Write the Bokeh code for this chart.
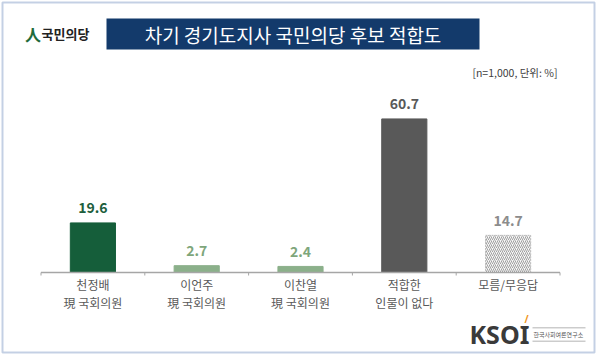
from bokeh.plotting import figure
from bokeh.models import ColumnDataSource, Label, BoxAnnotation, FactorRange, Range1d
from bokeh.core.properties import value
from bokeh.embed import file_html
from bokeh.resources import INLINE

# ---- data ----
categories = ["천정배", "이언주", "이찬열", "적합한 인물이 없다", "모름/무응답"]
tick_labels = ["천정배\n現 국회의원", "이언주\n現 국회의원", "이찬열\n現 국회의원",
               "적합한\n인물이 없다", "모름/무응답"]
values = [19.6, 2.7, 2.4, 60.7, 14.7]
value_texts = ["19.6", "2.7", "2.4", "60.7", "14.7"]
title_text = "차기 경기도지사 국민의당 후보 적합도"
note_text = "[n=1,000, 단위: %]"

FONT = "Noto Sans CJK KR"
bar_colors = ["#155e3a", "#8bb08a", "#8bb08a", "#595959"]
label_colors = ["#1d5e3c", "#7ea67b", "#7ea67b", "#595959", "#8c8c8c"]

W, H = 600, 356
BASE = 272          # canvas px of value 0
PXU = 2.53          # px per percent
CATW = 103.8        # px per category
pad = (W / CATW - len(categories)) / 2

p = figure(width=W, height=H, output_backend="svg", toolbar_location=None,
           x_range=FactorRange(factors=categories, range_padding=pad,
                               range_padding_units="absolute"),
           y_range=Range1d(-(H - BASE) / PXU, BASE / PXU),
           x_axis_location=None, y_axis_location=None,
           min_border=0)
p.outline_line_color = None
p.grid.visible = False
p.background_fill_color = "white"
p.border_fill_color = "white"

src = ColumnDataSource(dict(cat=categories[:4], val=values[:4], color=bar_colors))
p.vbar(x="cat", top="val", width=0.435, source=src, fill_color="color", line_color="color")

src5 = ColumnDataSource(dict(cat=categories[4:], val=values[4:]))
p.vbar(x="cat", top="val", width=0.435, source=src5, fill_color="#f6f6f6",
       line_color="#c0c0c0", line_dash="2 1", hatch_pattern="right_diagonal_line",
       hatch_color="#a0a0a0", hatch_scale=4, hatch_weight=1)

lsrc = ColumnDataSource(dict(cat=categories, val=values, txt=value_texts, color=label_colors))
p.text(x="cat", y="val", text="txt", source=lsrc, text_color="color",
       text_font=value(FONT), text_font_size="14px", text_font_style="bold",
       text_align="center", text_baseline="middle", y_offset=-15)

# category axis: baseline, boundary ticks, labels
n = len(categories)
p.segment(x0=[0], x1=[n], y0=[0], y1=[0], line_color="#a6a6a6", line_width=1.3)
bounds = list(range(n + 1))
p.segment(x0=bounds, x1=bounds, y0=[0] * (n + 1), y1=[-3 / PXU] * (n + 1),
          line_color="#a6a6a6", line_width=1)
csrc = ColumnDataSource(dict(cat=categories, txt=tick_labels))
p.text(x="cat", y=0, text="txt", source=csrc, text_color="#595959",
       text_font=value(FONT), text_font_size="12px", text_align="center",
       text_baseline="top", text_line_height=1.08, y_offset=3)


def sx(cx):
    return cx


def sy(cy):
    return H - cy


def box(l, r, t, b, **kw):
    return BoxAnnotation(left=sx(l), right=sx(r), top=sy(t), bottom=sy(b),
                         left_units="screen", right_units="screen",
                         top_units="screen", bottom_units="screen", **kw)


# outer border
p.add_layout(box(2, 594, 2, 352, fill_alpha=0, line_color="#3d63a6", line_width=2,
                 level="overlay"))
# title box
p.add_layout(box(106, 479, 18, 49, fill_color="#133a6b", fill_alpha=1, line_color=None))
p.add_layout(Label(x=sx(292.5), y=sy(33.5), x_units="screen", y_units="screen",
                   text=title_text, text_font=FONT, text_font_size="19px",
                   text_color="white", text_align="center", text_baseline="middle"))

# party logo
p.add_layout(Label(x=sx(32.5), y=sy(33), x_units="screen", y_units="screen",
                   text="人", text_font=FONT, text_font_size="16px", text_font_style="bold",
                   text_color="#1f6b3c", text_align="center", text_baseline="middle"))
p.add_layout(Label(x=sx(41), y=sy(33), x_units="screen", y_units="screen",
                   text="국민의당", text_font=FONT, text_font_size="13px", text_font_style="bold",
                   text_color="#222222", text_align="left", text_baseline="middle"))

# note
p.add_layout(Label(x=sx(557), y=sy(72), x_units="screen", y_units="screen",
                   text=note_text, text_font=FONT, text_font_size="10.5px",
                   text_color="#404040", text_align="right", text_baseline="middle"))

# KSOI logo
p.add_layout(Label(x=sx(469), y=sy(333), x_units="screen", y_units="screen",
                   text="KSOI", text_font="Noto Sans", text_font_size="25px",
                   text_font_style="bold", text_color="#3a3a3a",
                   text_align="left", text_baseline="middle"))
p.add_layout(Label(x=sx(526), y=sy(318), x_units="screen", y_units="screen",
                   text="/", text_font="Noto Sans", text_font_size="10px",
                   text_font_style="bold", text_color="#f0961e",
                   text_align="center", text_baseline="middle"))
p.add_layout(Label(x=sx(533), y=sy(334), x_units="screen", y_units="screen",
                   text="한국사회여론연구소", text_font=FONT, text_font_size="6px",
                   text_color="#555555", text_align="left", text_baseline="middle"))
p.add_layout(box(532, 585, 327, 327.8, fill_color="#9a9a9a", fill_alpha=1, line_color=None))
p.add_layout(box(532, 585, 340.2, 341, fill_color="#9a9a9a", fill_alpha=1, line_color=None))

open("out.html", "w").write(file_html(p, INLINE))
